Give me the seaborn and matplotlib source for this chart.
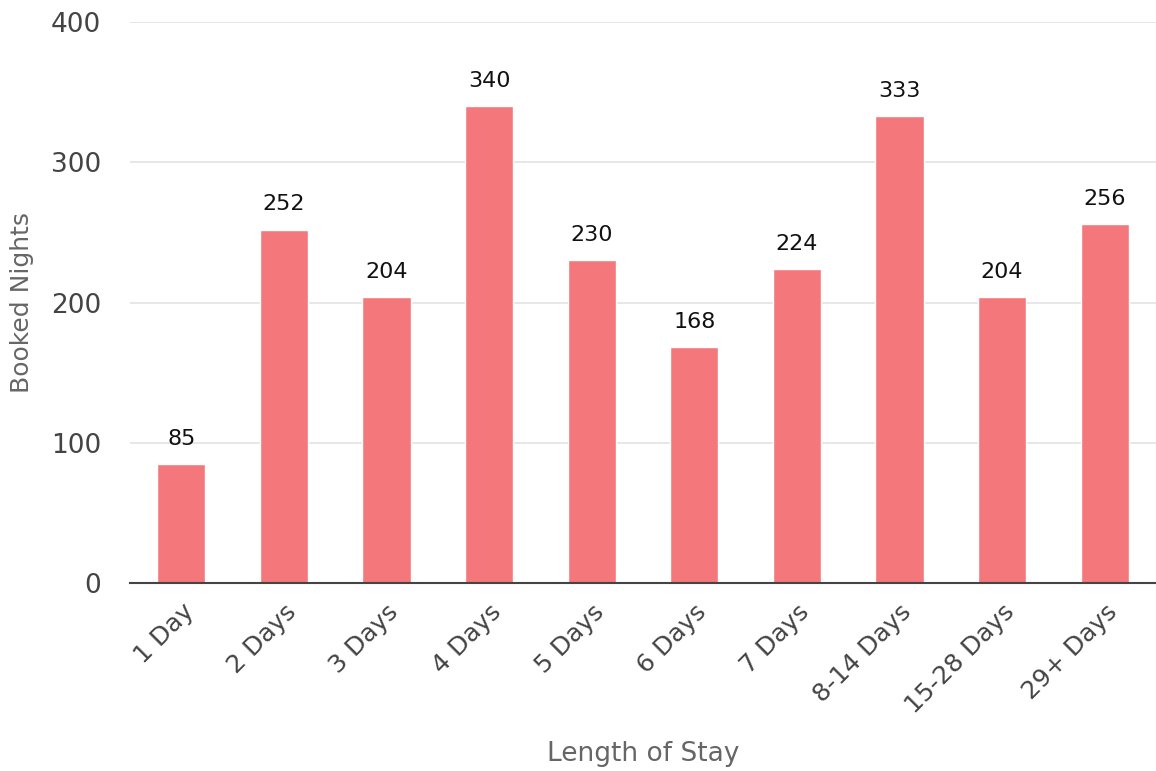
import pandas as pd
import matplotlib.pyplot as plt
import seaborn as sns

# data
stay_lengths = ['1 Day', '2 Days', '3 Days', '4 Days', '5 Days', '6 Days',
                '7 Days', '8-14 Days', '15-28 Days', '29+ Days']
booked_nights = [85, 252, 204, 340, 230, 168, 224, 333, 204, 256]

df = pd.DataFrame({'stay': stay_lengths, 'nights': booked_nights})

sns.set_theme(style='white')
plt.rcParams['font.family'] = ['DejaVu Sans']

fig = plt.figure(figsize=(11.56, 7.71), dpi=100)
ax = fig.add_axes([0.1125, 0.2438, 0.8875, 0.7277])

sns.barplot(data=df, x='stay', y='nights', color='#F4777B', width=0.47,
            saturation=1, ax=ax, zorder=3)

for c in ax.containers:
    ax.bar_label(c, padding=11, fontsize=16, color='#111111')

ax.set_xlim(-0.5, 9.5)
ax.set_ylim(0, 400)
ax.set_yticks([0, 100, 200, 300, 400])
ax.yaxis.grid(True, color='#e3e3e3', linewidth=1.2, zorder=0)
ax.xaxis.grid(False)

for s in ['left', 'right', 'top']:
    ax.spines[s].set_visible(False)
ax.spines['bottom'].set_color('#444444')
ax.spines['bottom'].set_linewidth(1.5)
ax.spines['bottom'].set_zorder(4)

ax.tick_params(axis='y', length=0, pad=21, labelsize=19, labelcolor='#444444')
ax.tick_params(axis='x', length=0, pad=12, labelsize=18, labelcolor='#444444')
plt.setp(ax.get_xticklabels(), rotation=45, ha='right', rotation_mode='anchor')

ax.set_xlabel('Length of Stay', fontsize=19, color='#666666')
ax.xaxis.set_label_coords(0.5, -0.282)
ax.set_ylabel('Booked Nights', fontsize=18, color='#666666', labelpad=12)

fig.savefig('out.png', dpi=100)
